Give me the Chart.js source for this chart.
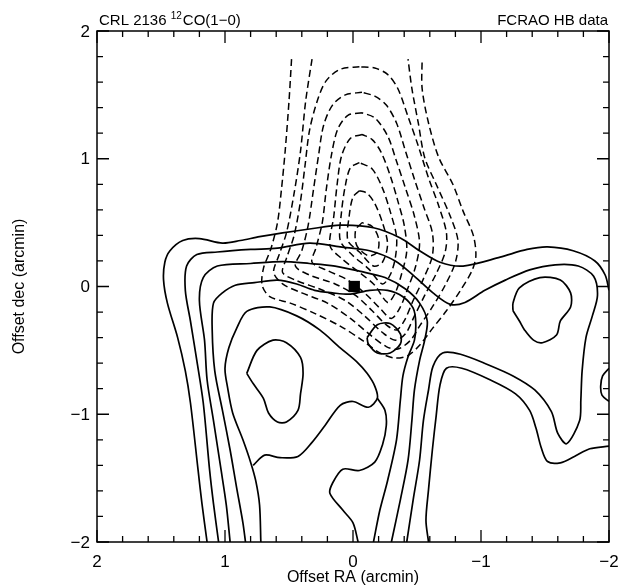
<!DOCTYPE html>
<html>
<head>
<meta charset="utf-8">
<script src="https://cdn.jsdelivr.net/npm/chart.js@4.4.0/dist/chart.umd.min.js"></script>
<style>
  html, body { margin: 0; padding: 0; background: #fff; }
  #wrap { width: 623px; height: 585px; }
</style>
</head>
<body>
<div id="wrap"><canvas id="map" width="623" height="585"></canvas></div>
<script>
// axis ticks (arcmin offsets)
const xTickVals = [2, 1, 0, -1, -2];
const yTickVals = [2, 1, 0, -1, -2];
const tickLabels = ['2', '1', '0', '\u22121', '\u22122'];

// solid contours, [offset RA, offset dec] in arcmin
const solid1 = [[1.14,-2.0],[1.18,-1.70],[1.21,-1.44],[1.27,-0.91],[1.31,-0.66],[1.37,-0.40],[1.45,-0.13],[1.48,0.05],[1.47,0.19],[1.43,0.28],[1.33,0.36],[1.20,0.375],[1.02,0.34],[0.88,0.36],[0.73,0.39],[0.55,0.42],[0.34,0.45],[0.10,0.48],[-0.16,0.46],[-0.37,0.38],[-0.52,0.28],[-0.68,0.19],[-0.86,0.16],[-1.15,0.23],[-1.36,0.29],[-1.52,0.31],[-1.72,0.28],[-1.89,0.20],[-1.97,0.09],[-2.0,-0.03]];
const solid1b = [[-2.0,-1.25],[-1.85,-1.27],[-1.73,-1.33],[-1.62,-1.38],[-1.52,-1.37],[-1.47,-1.26],[-1.43,-1.11],[-1.38,-0.97],[-1.27,-0.84],[-1.07,-0.73],[-0.85,-0.64],[-0.73,-0.64],[-0.68,-0.77],[-0.65,-1.01],[-0.62,-1.28],[-0.59,-1.59],[-0.57,-1.83],[-0.59,-2.0]];
const solid2 = [[1.05,-2.0],[1.09,-1.70],[1.12,-1.44],[1.17,-0.91],[1.22,-0.58],[1.27,-0.27],[1.31,-0.03],[1.30,0.16],[1.22,0.25],[1.06,0.27],[0.80,0.29],[0.59,0.30],[0.34,0.34],[0.10,0.31],[-0.13,0.28],[-0.33,0.20],[-0.48,0.08],[-0.625,-0.05],[-0.76,-0.14],[-0.875,-0.125],[-1.03,-0.03],[-1.19,0.05],[-1.38,0.13],[-1.58,0.17],[-1.76,0.16],[-1.88,0.08],[-1.91,-0.07],[-1.87,-0.23],[-1.82,-0.40],[-1.79,-0.66],[-1.78,-0.89],[-1.77,-1.05],[-1.67,-1.23],[-1.60,-1.15],[-1.55,-0.98],[-1.42,-0.81],[-1.25,-0.70],[-1.05,-0.61],[-0.84,-0.53],[-0.70,-0.52],[-0.625,-0.625],[-0.59,-0.81],[-0.55,-1.05],[-0.52,-1.36],[-0.47,-1.67],[-0.42,-2.0]];
const solid2b = [[-2.0,-0.64],[-1.95,-0.70],[-1.935,-0.78],[-1.945,-0.85],[-2.0,-0.90]];
const solid3 = [[0.96,-2.0],[0.99,-1.71],[1.03,-1.44],[1.09,-1.05],[1.14,-0.73],[1.16,-0.42],[1.20,-0.11],[1.17,0.07],[1.06,0.16],[0.80,0.18],[0.55,0.195],[0.34,0.18],[0.14,0.16],[-0.05,0.12],[-0.25,0.07],[-0.41,-0.02],[-0.52,-0.13],[-0.58,-0.27],[-0.56,-0.42],[-0.52,-0.58],[-0.48,-0.81],[-0.46,-1.05],[-0.43,-1.36],[-0.37,-1.67],[-0.30,-2.0]];
const solid4 = [[0.84,-2.0],[0.86,-1.85],[0.91,-1.57],[0.96,-1.28],[1.02,-0.97],[1.08,-0.66],[1.10,-0.34],[1.09,-0.13],[1.02,-0.05],[0.92,0.01],[0.77,0.03],[0.59,0.05],[0.44,0.02],[0.30,-0.03],[0.16,-0.05],[0.02,-0.06],[-0.13,-0.03],[-0.27,-0.03],[-0.39,-0.08],[-0.47,-0.17],[-0.49,-0.28],[-0.48,-0.42],[-0.43,-0.55],[-0.39,-0.70],[-0.37,-0.89],[-0.34,-1.20],[-0.27,-1.52],[-0.21,-1.75],[-0.16,-2.0]];
const solid5 = [[0.72,-2.0],[0.73,-1.71],[0.76,-1.52],[0.80,-1.375],[0.86,-1.20],[0.94,-0.99],[0.98,-0.79],[1.0,-0.64],[0.97,-0.48],[0.91,-0.33],[0.83,-0.195],[0.65,-0.16],[0.44,-0.23],[0.26,-0.34],[0.10,-0.48],[-0.03,-0.59],[-0.11,-0.68],[-0.17,-0.78],[-0.19,-0.875],[-0.12,-0.945],[0.0,-0.90],[0.10,-0.93],[0.22,-1.09],[0.32,-1.22],[0.43,-1.33],[0.57,-1.34],[0.69,-1.32],[0.78,-1.40]];
const solid5b = [[-0.04,-2.0],[0.0,-1.85],[0.08,-1.75],[0.18,-1.62],[0.16,-1.54],[0.08,-1.43],[-0.05,-1.44],[-0.17,-1.375],[-0.23,-1.24],[-0.26,-1.09],[-0.25,-0.97],[-0.19,-0.875]];
const peakWest = [[0.83,-0.68],[0.75,-0.5],[0.625,-0.42],[0.52,-0.44],[0.41,-0.555],[0.39,-0.68],[0.41,-0.84],[0.43,-0.97],[0.52,-1.06],[0.59,-1.06],[0.66,-0.99],[0.70,-0.875],[0.78,-0.76],[0.83,-0.68]];
const peakEast = [[-1.25,-0.19],[-1.25,-0.13],[-1.30,-0.01],[-1.46,0.07],[-1.62,0.05],[-1.70,-0.05],[-1.70,-0.16],[-1.62,-0.27],[-1.59,-0.38],[-1.48,-0.44],[-1.41,-0.42],[-1.34,-0.34],[-1.30,-0.27],[-1.25,-0.19]];
const peakSouth = [[-0.11,-0.40],[-0.19,-0.30],[-0.29,-0.29],[-0.37,-0.37],[-0.37,-0.45],[-0.29,-0.52],[-0.19,-0.52],[-0.12,-0.45],[-0.11,-0.40]];

// dashed contours (outflow lobe)
const dash1 = [[0.48,1.78],[0.50,1.45],[0.53,1.06],[0.56,0.75],[0.59,0.50],[0.64,0.30],[0.70,0.14],[0.71,0.01],[0.65,-0.08],[0.49,-0.13],[0.30,-0.21],[0.10,-0.31],[-0.07,-0.42],[-0.21,-0.52],[-0.33,-0.56],[-0.43,-0.54],[-0.52,-0.46],[-0.62,-0.33],[-0.73,-0.19],[-0.84,-0.03],[-0.93,0.125],[-0.96,0.24],[-0.94,0.40],[-0.86,0.59],[-0.78,0.80],[-0.67,1.01],[-0.59,1.28],[-0.54,1.55],[-0.54,1.78]];
const dash2 = [[0.32,1.78],[0.37,1.45],[0.41,1.06],[0.46,0.73],[0.52,0.42],[0.58,0.24],[0.62,0.11],[0.55,0.02],[0.40,-0.05],[0.20,-0.13],[0.02,-0.25],[-0.13,-0.375],[-0.26,-0.47],[-0.35,-0.49],[-0.45,-0.42],[-0.52,-0.31],[-0.62,-0.16],[-0.72,0.01],[-0.80,0.19],[-0.82,0.36],[-0.76,0.55],[-0.65,0.80],[-0.56,1.01],[-0.51,1.28],[-0.46,1.55],[-0.43,1.78]];
const dash3 = [[-0.05,1.72],[0.10,1.70],[0.21,1.61],[0.28,1.45],[0.34,1.22],[0.375,0.945],[0.41,0.67],[0.46,0.40],[0.52,0.22],[0.55,0.11],[0.45,0.05],[0.26,-0.02],[0.06,-0.11],[-0.09,-0.23],[-0.23,-0.36],[-0.33,-0.42],[-0.41,-0.37],[-0.48,-0.23],[-0.56,-0.07],[-0.65,0.10],[-0.72,0.27],[-0.73,0.42],[-0.67,0.63],[-0.59,0.85],[-0.51,1.10],[-0.43,1.33],[-0.35,1.55],[-0.27,1.66],[-0.17,1.71],[-0.05,1.72]];
const dash4 = [[-0.07,1.52],[0.06,1.50],[0.16,1.42],[0.23,1.26],[0.27,1.02],[0.31,0.75],[0.35,0.48],[0.40,0.28],[0.45,0.16],[0.34,0.09],[0.14,0.02],[-0.02,-0.07],[-0.15,-0.19],[-0.26,-0.30],[-0.34,-0.34],[-0.40,-0.27],[-0.47,-0.11],[-0.55,0.06],[-0.62,0.24],[-0.62,0.42],[-0.55,0.63],[-0.48,0.84],[-0.41,1.06],[-0.34,1.28],[-0.26,1.42],[-0.17,1.49],[-0.07,1.52]];
const dash5 = [[-0.07,1.36],[0.04,1.34],[0.12,1.23],[0.17,1.02],[0.21,0.75],[0.24,0.50],[0.29,0.30],[0.32,0.19],[0.20,0.125],[0.04,0.05],[-0.10,-0.06],[-0.21,-0.17],[-0.30,-0.25],[-0.37,-0.16],[-0.43,-0.01],[-0.49,0.16],[-0.52,0.34],[-0.48,0.55],[-0.41,0.77],[-0.34,0.98],[-0.27,1.18],[-0.17,1.32],[-0.07,1.36]];
const dash6 = [[-0.07,1.19],[0.02,1.16],[0.09,1.02],[0.125,0.79],[0.15,0.55],[0.18,0.32],[0.09,0.22],[-0.05,0.11],[-0.17,0.01],[-0.27,-0.125],[-0.33,-0.05],[-0.38,0.10],[-0.42,0.28],[-0.40,0.48],[-0.35,0.67],[-0.29,0.87],[-0.22,1.05],[-0.15,1.15],[-0.07,1.19]];
const dash7 = [[-0.05,0.97],[0.02,0.93],[0.06,0.79],[0.09,0.58],[0.10,0.36],[0.01,0.25],[-0.12,0.14],[-0.23,0.02],[-0.29,0.09],[-0.33,0.22],[-0.34,0.39],[-0.29,0.59],[-0.23,0.77],[-0.15,0.92],[-0.05,0.97]];
const dash8 = [[-0.05,0.75],[0.0,0.70],[0.03,0.55],[0.04,0.36],[-0.05,0.27],[-0.16,0.16],[-0.23,0.19],[-0.27,0.33],[-0.23,0.50],[-0.17,0.65],[-0.11,0.73],[-0.05,0.75]];
const dash9 = [[-0.07,0.50],[-0.02,0.44],[-0.03,0.32],[-0.12,0.24],[-0.19,0.27],[-0.20,0.375],[-0.15,0.47],[-0.07,0.50]];

// source position
const sourceX = [-0.01];
const sourceY = [0.0];

const solidContours = [solid1, solid1b, solid2, solid2b, solid3, solid4, solid5, solid5b, peakWest, peakEast, peakSouth];
const dashedContours = [dash1, dash2, dash3, dash4, dash5, dash6, dash7, dash8, dash9];

const toPts = arr => arr.map(p => ({ x: p[0], y: p[1] }));

const datasets = [];
solidContours.forEach(c => datasets.push({
    data: toPts(c), showLine: true, borderColor: '#000', borderWidth: 1.7,
    pointRadius: 0, tension: 0.3, fill: false
}));
dashedContours.forEach(c => datasets.push({
    data: toPts(c), showLine: true, borderColor: '#000', borderWidth: 1.5,
    borderDash: [7, 4], pointRadius: 0, tension: 0.3, fill: false
}));
datasets.push({
    data: sourceX.map((v, i) => ({ x: v, y: sourceY[i] })),
    showLine: false, pointStyle: 'rect', pointRadius: 8,
    backgroundColor: '#000', borderColor: '#000', borderWidth: 0
});

const FONT = '"Liberation Sans", Arial, sans-serif';

// frame, inward ticks on all sides, labels and titles
const framePlugin = {
    id: 'frame',
    afterDraw(chart) {
        const { ctx, chartArea: a, scales: { x, y } } = chart;
        ctx.save();
        ctx.strokeStyle = '#000';
        ctx.lineWidth = 1.5;
        ctx.strokeRect(a.left, a.top, a.right - a.left, a.bottom - a.top);

        ctx.lineWidth = 1.3;
        ctx.beginPath();
        for (let i = -10; i <= 10; i++) {
            const v = i / 5;
            const len = (i % 5 === 0) ? 12 : 6;
            const px = x.getPixelForValue(v);
            const py = y.getPixelForValue(v);
            ctx.moveTo(px, a.bottom); ctx.lineTo(px, a.bottom - len);
            ctx.moveTo(px, a.top); ctx.lineTo(px, a.top + len);
            ctx.moveTo(a.left, py); ctx.lineTo(a.left + len, py);
            ctx.moveTo(a.right, py); ctx.lineTo(a.right - len, py);
        }
        ctx.stroke();

        ctx.fillStyle = '#000';
        ctx.font = '17px ' + FONT;
        ctx.textAlign = 'center';
        ctx.textBaseline = 'alphabetic';
        xTickVals.forEach((v, i) => {
            ctx.fillText(tickLabels[i], x.getPixelForValue(v), a.bottom + 25);
        });
        ctx.textAlign = 'right';
        ctx.textBaseline = 'middle';
        yTickVals.forEach((v, i) => {
            ctx.fillText(tickLabels[i], a.left - 7, y.getPixelForValue(v) + 1);
        });

        // axis titles
        ctx.font = '16px ' + FONT;
        ctx.textAlign = 'center';
        ctx.textBaseline = 'alphabetic';
        ctx.fillText('Offset RA (arcmin)', (a.left + a.right) / 2, 582);
        ctx.save();
        ctx.translate(24, (a.top + a.bottom) / 2);
        ctx.rotate(-Math.PI / 2);
        ctx.fillText('Offset dec (arcmin)', 0, 0);
        ctx.restore();

        // header texts
        ctx.font = '15px ' + FONT;
        ctx.textAlign = 'left';
        let tx = a.left + 2;
        const base = a.top - 6;
        ctx.fillText('CRL 2136 ', tx, base);
        tx += ctx.measureText('CRL 2136 ').width;
        ctx.font = '10px ' + FONT;
        ctx.fillText('12', tx, base - 6);
        tx += ctx.measureText('12').width + 1;
        ctx.font = '15px ' + FONT;
        ctx.fillText('CO(1\u22120)', tx, base);
        ctx.textAlign = 'right';
        ctx.fillText('FCRAO HB data', a.right - 1, base);
        ctx.restore();
    }
};

new Chart(document.getElementById('map'), {
    type: 'scatter',
    data: { datasets: datasets },
    options: {
        responsive: false,
        animation: false,
        events: [],
        layout: { padding: { left: 97, right: 14, top: 31, bottom: 43 } },
        plugins: { legend: { display: false }, tooltip: { enabled: false } },
        scales: {
            x: { type: 'linear', min: -2, max: 2, reverse: true, display: false },
            y: { type: 'linear', min: -2, max: 2, display: false }
        }
    },
    plugins: [framePlugin]
});
</script>
</body>
</html>
